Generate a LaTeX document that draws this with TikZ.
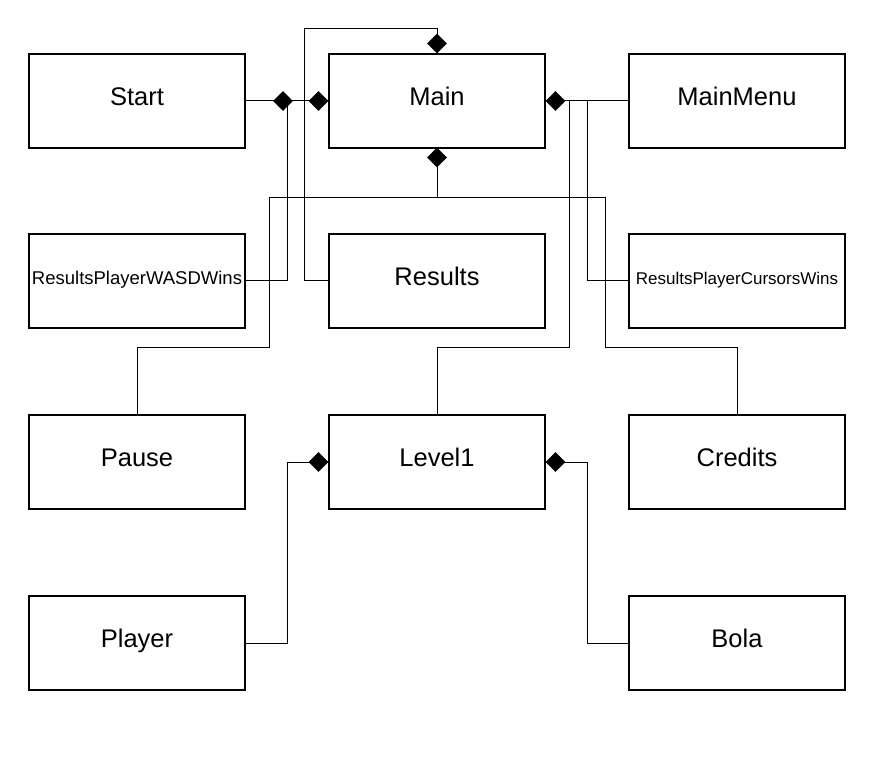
\documentclass[tikz,border=0pt]{standalone}
\usepackage{fontspec}
\setmainfont{Liberation Sans}
\usetikzlibrary{shapes.geometric}
\begin{document}
\begin{tikzpicture}[x=1pt,y=-1pt,
  cls/.style={draw=black,line width=1.2pt,minimum width=216pt,minimum height=94pt,inner sep=0pt,
    font=\fontsize{25.5}{30}\selectfont,text height=18.3pt,text depth=9pt},
  clsa/.style={cls,font=\fontsize{18.5}{21}\selectfont,text height=13.2pt,text depth=6pt},
  clsb/.style={cls,font=\fontsize{17}{21}\selectfont,text height=12.2pt,text depth=6pt},
  conn/.style={draw=black,line width=1pt},
  dia/.style={diamond,fill=black,inner sep=0pt,minimum width=20pt,minimum height=20pt}]
\useasboundingbox (0,0) rectangle (889,783);
\node[cls] (start) at (137,101) {Start};
\node[cls] (main) at (437,101) {Main};
\node[cls] (mainmenu) at (737,101) {MainMenu};
\node[clsa] (wasd) at (137,281) {ResultsPlayerWASDWins};
\node[cls] (results) at (437,281) {Results};
\node[clsb] (cursors) at (737,281) {ResultsPlayerCursorsWins};
\node[cls] (pause) at (137,462) {Pause};
\node[cls] (level1) at (437,462) {Level1};
\node[cls] (credits) at (737,462) {Credits};
\node[cls] (player) at (137,643) {Player};
\node[cls] (bola) at (737,643) {Bola};
% connectors
\draw[conn] (start.east) -- (main.west);
\draw[conn] (wasd.east) -| (287,101);
\draw[conn] (results.west) -| (304,29) -| (main.north);
\draw[conn] (mainmenu.west) -- (main.east);
\draw[conn] (level1.north) |- (569,348) |- (main.east);
\draw[conn] (cursors.west) -| (587,101);
\draw[conn] (pause.north) |- (269,348) |- (437,198) -- (main.south);
\draw[conn] (credits.north) |- (605,348) |- (437,198);
\draw[conn] (player.east) -| (287,462) -- (level1.west);
\draw[conn] (bola.west) -| (587,462) -- (level1.east);
% diamonds
\node[dia] (d1) at (283,101) {};
\node[dia] (d2) at (318.5,101) {};
\node[dia] (d3) at (437,43.5) {};
\node[dia] (d4) at (437,157.5) {};
\node[dia] (d5) at (555.5,101) {};
\node[dia] (d6) at (318.5,462) {};
\node[dia] (d7) at (555.5,462) {};
\end{tikzpicture}
\end{document}
